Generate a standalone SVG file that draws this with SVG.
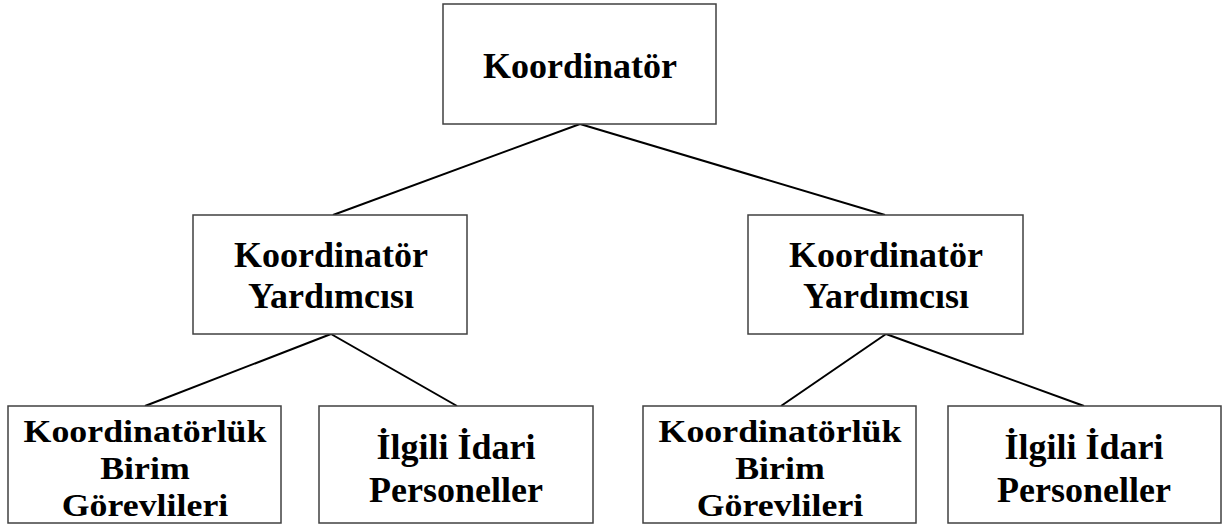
<svg xmlns="http://www.w3.org/2000/svg" width="1227" height="527" viewBox="0 0 1227 527">
<style>
rect.box{fill:#fff;stroke:#404040;stroke-width:1.5}
.conn line{stroke:#000;stroke-width:2}
text{font-family:"Liberation Serif","Times New Roman",serif;font-weight:bold;font-size:36px;fill:#000;text-anchor:middle}
text.tight{font-size:32px}
</style>
<rect width="1227" height="527" fill="#fff"/>
<g class="conn">
<line x1="580" y1="124" x2="333" y2="215"/>
<line x1="580" y1="124" x2="885" y2="215"/>
<line x1="331" y1="334" x2="145" y2="406"/>
<line x1="331" y1="334" x2="457" y2="406"/>
<line x1="886" y1="334" x2="781" y2="406"/>
<line x1="886" y1="334" x2="1084" y2="406"/>
</g>
<g id="n1"><rect class="box" x="443" y="4" width="273" height="120"/><text x="580" y="78">Koordinatör</text></g>
<g id="n2"><rect class="box" x="193" y="215" width="274" height="119"/><text x="331" y="267">Koordinatör<tspan x="331" y="308">Yardımcısı</tspan></text></g>
<g id="n3"><rect class="box" x="748" y="215" width="275" height="119"/><text x="886" y="267">Koordinatör<tspan x="886" y="308">Yardımcısı</tspan></text></g>
<g id="n4"><rect class="box" x="8" y="406" width="273" height="117"/><text class="tight" transform="translate(145,0) scale(1.12,1)" x="0" y="442">Koordinatörlük<tspan x="0" y="479">Birim</tspan><tspan x="0" y="516">Görevlileri</tspan></text></g>
<g id="n5"><rect class="box" x="319" y="406" width="274" height="117"/><text x="456" y="459">İlgili İdari<tspan x="456" y="502">Personeller</tspan></text></g>
<g id="n6"><rect class="box" x="643" y="406" width="273" height="117"/><text class="tight" transform="translate(780,0) scale(1.12,1)" x="0" y="442">Koordinatörlük<tspan x="0" y="479">Birim</tspan><tspan x="0" y="516">Görevlileri</tspan></text></g>
<g id="n7"><rect class="box" x="948" y="406" width="273" height="117"/><text x="1084" y="459">İlgili İdari<tspan x="1084" y="502">Personeller</tspan></text></g>
</svg>
